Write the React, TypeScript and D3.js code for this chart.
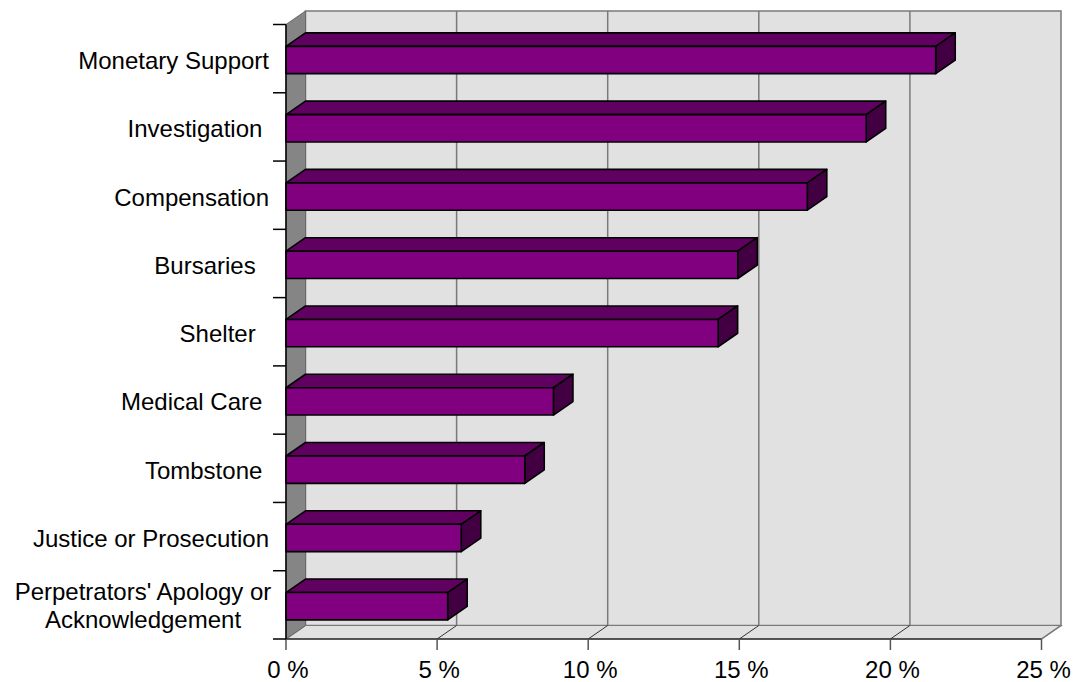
import React from "react";
import * as d3 from "d3";

// Reparation types requested, share of respondents (%)
const categories = [
  "Monetary Support",
  "Investigation ",
  "Compensation",
  "Bursaries  ",
  "Shelter  ",
  "Medical Care ",
  "Tombstone ",
  "Justice or Prosecution",
  "Perpetrators' Apology or\nAcknowledgement",
];
const values = [21.5, 19.2, 17.25, 14.95, 14.3, 8.85, 7.9, 5.8, 5.35];
const xTicks = [0, 5, 10, 15, 20, 25];
const xTickLabels = ["0 %", "5 %", "10 %", "15 %", "20 %", "25 %"];

const W = 1074;
const H = 682;
const FONT = "'Liberation Sans', Arial, sans-serif";

export default function App() {
  // front plane of the 3D box
  const left = 286;
  const right = 1041.5;
  const top = 24.5;
  const bottom = 639;
  // depth offset of the back wall
  const dx = 19.5;
  const dy = -13.5;

  const x = d3.scaleLinear().domain([0, 25]).range([left, right]);
  const y = d3.scaleBand<string>().domain(categories).range([top, bottom]);
  const bw = y.bandwidth();

  const purple = "#800080";
  const purpleTop = "#600060";
  const purpleSide = "#420042";
  const wall = "#e1e1e1";
  const sideWall = "#858585";
  const grid = "#7a7a7a";

  const pts = (a: [number, number][]) => a.map((p) => p.join(",")).join(" ");

  return (
    <svg
      width={W}
      height={H}
      style={{ position: "absolute", left: 0, top: 0, background: "#fff" }}
      fontFamily={FONT}
    >
      {/* back wall */}
      <rect
        x={left + dx}
        y={top + dy}
        width={right - left}
        height={bottom - top}
        fill={wall}
        stroke={grid}
        strokeWidth={1.5}
      />
      {/* floor */}
      <polygon
        points={pts([
          [left, bottom],
          [left + dx, bottom + dy],
          [right + dx, bottom + dy],
          [right, bottom],
        ])}
        fill={wall}
        stroke={grid}
        strokeWidth={1.2}
      />
      {/* gridlines on back wall and floor */}
      {xTicks.slice(1, -1).map((t) => (
        <g key={"g" + t}>
          <line
            x1={x(t) + dx}
            x2={x(t) + dx}
            y1={top + dy}
            y2={bottom + dy}
            stroke={grid}
            strokeWidth={1.5}
          />
          <line
            x1={x(t)}
            x2={x(t) + dx}
            y1={bottom}
            y2={bottom + dy}
            stroke="#333"
            strokeWidth={1}
          />
        </g>
      ))}
      {/* right floor edge */}
      <line x1={right} x2={right + dx} y1={bottom} y2={bottom + dy} stroke={grid} strokeWidth={1.5} />
      {/* left side wall */}
      <polygon
        points={pts([
          [left, top],
          [left + dx, top + dy],
          [left + dx, bottom + dy],
          [left, bottom],
        ])}
        fill={sideWall}
        stroke="#6a6a6a"
        strokeWidth={1}
      />
      {/* front floor edge / value axis */}
      <line x1={left} x2={right} y1={bottom} y2={bottom} stroke="#333" strokeWidth={1.5} />
      {xTicks.map((t, i) => (
        <g key={"t" + t}>
          <line x1={x(t)} x2={x(t)} y1={bottom} y2={bottom + 11} stroke="#555" strokeWidth={1.5} />
          <text x={x(t) + 2} y={678} fontSize={24} textAnchor="middle" fill="#000">
            {xTickLabels[i]}
          </text>
        </g>
      ))}

      {/* bars */}
      {categories.map((c, i) => {
        const y0 = (y(c) as number) + bw * 0.32;
        const y1 = y0 + bw * 0.4;
        const x0 = x(0);
        const x1 = x(values[i]);
        return (
          <g key={c} stroke="#000" strokeWidth={1.6} strokeLinejoin="round">
            <polygon
              points={pts([
                [x0, y0],
                [x0 + dx, y0 + dy],
                [x1 + dx, y0 + dy],
                [x1, y0],
              ])}
              fill={purpleTop}
            />
            <polygon
              points={pts([
                [x1, y0],
                [x1 + dx, y0 + dy],
                [x1 + dx, y1 + dy],
                [x1, y1],
              ])}
              fill={purpleSide}
            />
            <rect x={x0} y={y0} width={x1 - x0} height={y1 - y0} fill={purple} />
          </g>
        );
      })}

      {/* category axis */}
      <line x1={left} x2={left} y1={top} y2={bottom} stroke="#000" strokeWidth={1.5} />
      {categories.map((c) => (
        <line
          key={"ct" + c}
          x1={left - 13}
          x2={left}
          y1={y(c) as number}
          y2={y(c) as number}
          stroke="#000"
          strokeWidth={1.5}
        />
      ))}
      <line x1={left - 13} x2={left} y1={bottom} y2={bottom} stroke="#000" strokeWidth={1.5} />

      {/* category labels */}
      {categories.map((c) => {
        const cy = (y(c) as number) + bw * 0.52;
        const lines = c.split("\n");
        if (lines.length === 1) {
          return (
            <text
              key={"l" + c}
              x={269}
              y={cy + 9}
              fontSize={24}
              textAnchor="end"
              style={{ whiteSpace: "pre" }}
              fill="#000"
            >
              {c}
            </text>
          );
        }
        return (
          <text key={"l" + c} x={143} fontSize={24} textAnchor="middle" fill="#000">
            {lines.map((ln, j) => (
              <tspan key={j} x={143} y={cy - 6 + j * 27.5}>
                {ln}
              </tspan>
            ))}
          </text>
        );
      })}
    </svg>
  );
}
